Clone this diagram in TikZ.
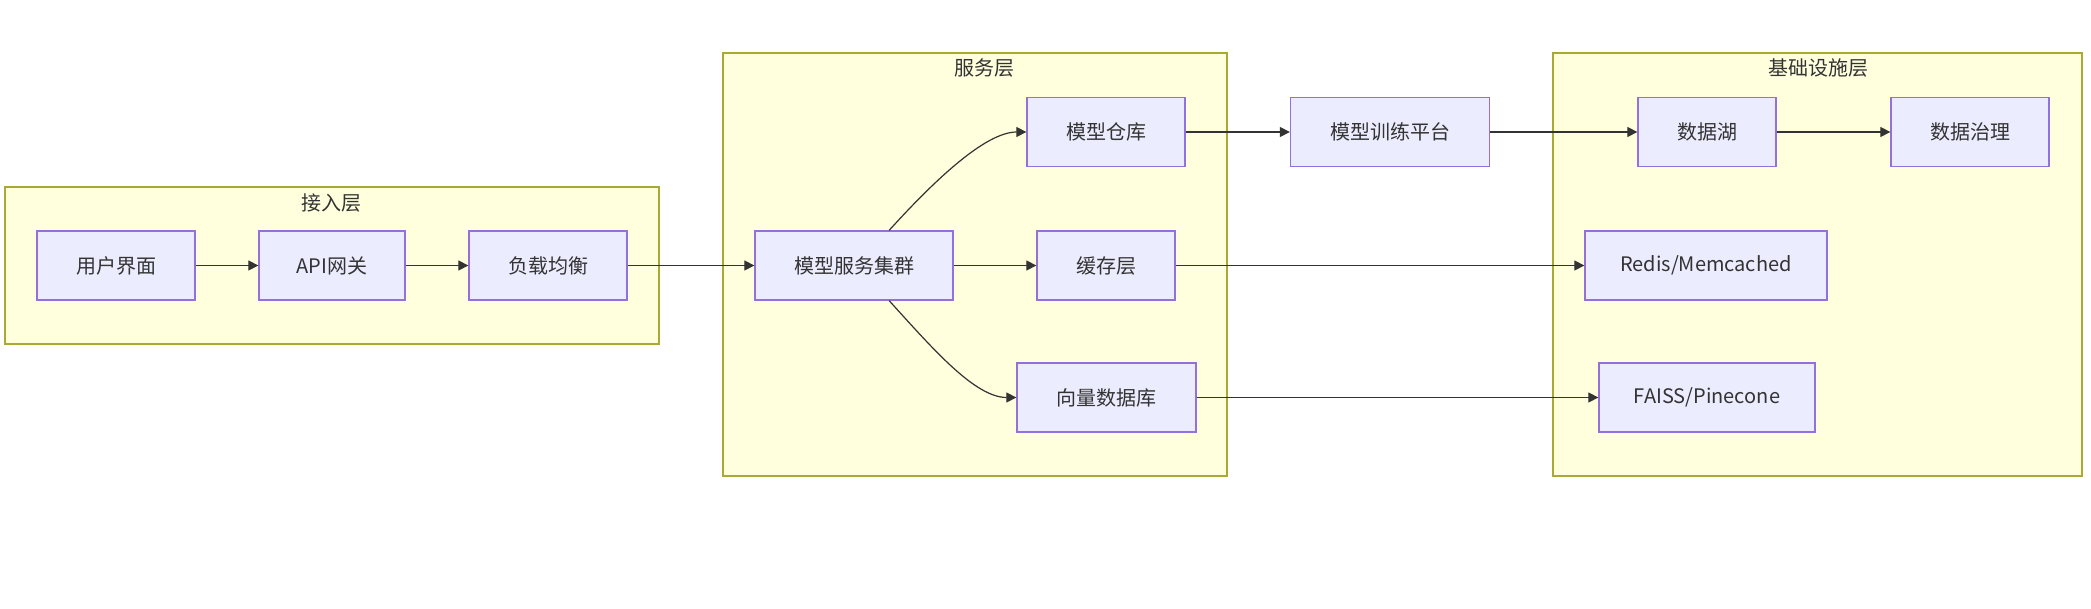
\documentclass[tikz,border=0pt]{standalone}
\usepackage{fontspec}
\setmainfont{Noto Sans CJK SC}
\usetikzlibrary{arrows.meta}
\definecolor{gruppenfill}{HTML}{FFFFDE}
\definecolor{gruppenrand}{HTML}{AAAA33}
\definecolor{knotenfill}{HTML}{ECECFF}
\definecolor{knotenrand}{HTML}{9370DB}
\definecolor{pfeilfarbe}{HTML}{333333}

\begin{document}
\begin{tikzpicture}[x=1pt, y=1pt, % Pixel-Koordinaten, y nach oben
    font=\fontsize{20}{24}\selectfont,
    gruppe/.style={fill=gruppenfill, draw=gruppenrand, line width=1.3pt},
    titel/.style={text=pfeilfarbe},
    knoten/.style={rectangle, fill=knotenfill, draw=knotenrand, line width=1.3pt,
        minimum height=69pt, inner xsep=0pt, text=pfeilfarbe},
    pfeil/.style={draw=pfeilfarbe, line width=1.2pt, -{Triangle[length=10pt,width=10pt]}}]

    % feste Bildgroesse
    \useasboundingbox (0,0) rectangle (2091,608);

    % Gruppen (Hintergrund)
    \draw[gruppe] (5,264) rectangle (659,421);
    \node[titel] (zugang) at (331,405) {接入层};
    \draw[gruppe] (723,132) rectangle (1227,555);
    \node[titel] (dienst) at (984,540) {服务层};
    \draw[gruppe] (1553,132) rectangle (2082,555);
    \node[titel] (basis) at (1818,540) {基础设施层};

    % Knoten: Name / x / y / Breite / Text
    \foreach \n/\x/\y/\w/\t in {
        ui/116/342.5/158/用户界面,
        api/332/342.5/146/API网关,
        lb/548/342.5/158/负载均衡,
        cluster/854/342.5/198/模型服务集群,
        repo/1106/476/158/模型仓库,
        cache/1106/342.5/138/缓存层,
        vdb/1106.5/210.5/179/向量数据库,
        train/1390/476/199/模型训练平台,
        lake/1707/476/138/数据湖,
        gov/1970/476/158/数据治理,
        redis/1706/342.5/242/{Redis/Memcached},
        faiss/1707/210.5/216/{FAISS/Pinecone}} {
        \node[knoten, minimum width=\w pt] (\n) at (\x,\y) {\t};
    }

    % gerade Verbindungen
    \foreach \a/\b in {ui/api, api/lb, lb/cluster, cluster/cache, repo/train,
        train/lake, lake/gov, cache/redis, vdb/faiss} {
        \draw[pfeil] (\a) -- (\b);
    }

    % gebogene Verbindungen
    \draw[pfeil] (cluster.45) .. controls (933,426) and (985,476) .. (repo.west);
    \draw[pfeil] (cluster.-45) .. controls (933,259) and (975,210.5) .. (vdb.west);
\end{tikzpicture}
\end{document}
